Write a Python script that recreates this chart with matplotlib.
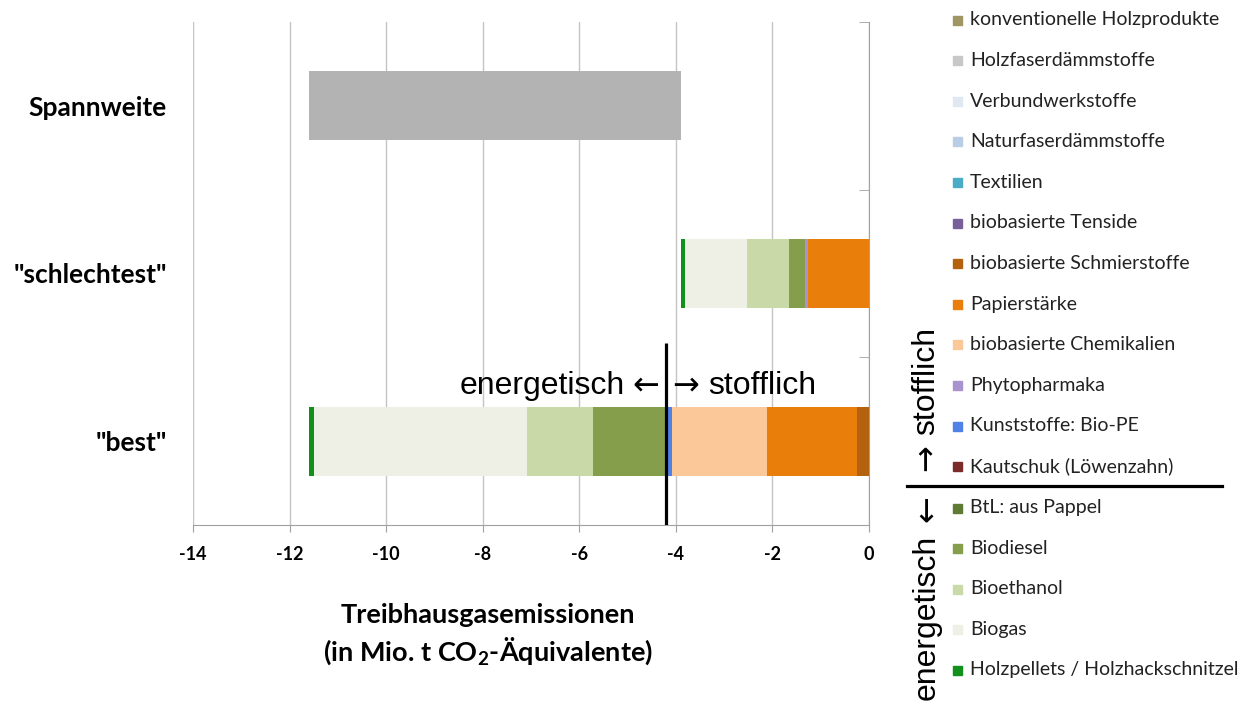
import numpy as np
import matplotlib
matplotlib.use('Agg')
import matplotlib.pyplot as plt
from matplotlib.ticker import FixedLocator
from matplotlib.patches import Rectangle
from matplotlib.lines import Line2D

plt.rcParams['font.family'] = ['Lato', 'DejaVu Sans']
plt.rcParams['mathtext.fontset'] = 'custom'
plt.rcParams['mathtext.rm'] = 'Lato'
plt.rcParams['mathtext.bf'] = 'Lato:bold'

#categories (bottom to top)
categories = ['"best"', '"schlechtest"', 'Spannweite']

#series in stacking order, starting at 0 and going to the left
series = ['konventionelle Holzprodukte', 'Holzfaserdämmstoffe', 'Verbundwerkstoffe',
          'Naturfaserdämmstoffe', 'Textilien', 'biobasierte Tenside',
          'biobasierte Schmierstoffe', 'Papierstärke', 'biobasierte Chemikalien',
          'Phytopharmaka', 'Kunststoffe: Bio-PE', 'Kautschuk (Löwenzahn)',
          'BtL: aus Pappel', 'Biodiesel', 'Bioethanol', 'Biogas',
          'Holzpellets / Holzhackschnitzel']
colors = ['#a09664', '#c8c8c8', '#dfe7f2', '#b9cde5', '#4bacc6', '#77609a',
          '#b5620f', '#e97e0b', '#fbc899', '#a993cf', '#4f81e6', '#7b2c2a',
          '#5f7a32', '#859e4b', '#cad9a8', '#eef0e6', '#138f1c']

#values in Mio. t CO2-eq
best = [0, 0, 0, 0, 0, 0, -0.25, -1.86, -1.96, 0, -0.12, 0, 0, -1.53, -1.36, -4.42, -0.10]
worst = [0, 0, 0, 0, 0, 0, 0, -1.26, 0, -0.06, 0, 0, 0, -0.34, -0.86, -1.29, -0.09]

#range bar
span_lo, span_hi = -11.6, -3.9

#dividing line between energetic and material use
divider_x = -4.2

fig = plt.figure(figsize=(12.43, 7.02), dpi=100)
ax = fig.add_axes([0.1553, 0.2521, 0.5438, 0.7166])

h = 0.41
for yi, vals in [(0, best), (1, worst)]:
    cum = 0
    for v, c in zip(vals, colors):
        if v != 0:
            ax.barh(yi, v, left=cum, height=h, color=c, edgecolor='none', zorder=3)
        cum += v
ax.barh(2, span_hi - span_lo, left=span_lo, height=h, color='#b3b3b3', edgecolor='none', zorder=3)

ax.set_xlim(-14, 0)
ax.set_ylim(-0.5, 2.5)
ax.set_xticks(np.arange(-14, 1, 2))
ax.set_xticklabels([str(t) for t in range(-14, 1, 2)], fontweight='bold')
ax.set_yticks([0, 1, 2])
ax.set_yticklabels(categories, fontweight='bold', fontsize=19)
ax.yaxis.set_minor_locator(FixedLocator([-0.5, 0.5, 1.5, 2.5]))
ax.tick_params(axis='y', which='major', length=0, pad=19)
ax.tick_params(axis='y', which='minor', left=False, right=True, direction='in', length=7, color='#a0a0a0')
ax.tick_params(axis='x', length=5, color='#a0a0a0', labelsize=13, pad=10)
ax.grid(axis='x', color='#c4c4c4', lw=1, zorder=0)
ax.set_axisbelow(True)
for s in ['top', 'left']:
    ax.spines[s].set_visible(False)
for s in ['bottom', 'right']:
    ax.spines[s].set_color('#a0a0a0')

helv = ['Liberation Sans', 'DejaVu Sans']
ax.vlines(divider_x, -0.5, 0.585, color='black', lw=2.3, zorder=5)
ty = 0.33
ax.text(-5.06, ty, 'energetisch', ha='right', va='center', fontsize=23, family=helv)
ax.text(-4.63, ty, '\u2190', ha='center', va='center', fontsize=23, family='DejaVu Sans')
ax.text(-3.80, ty, '\u2192', ha='center', va='center', fontsize=23, family='DejaVu Sans')
ax.text(-3.33, ty, 'stofflich', ha='left', va='center', fontsize=23, family=helv)

fig.text(0.3926, 0.095, 'Treibhausgasemissionen\n(in Mio. t CO$_\\mathbf{2}$-Äquivalente)',
         ha='center', va='center', fontsize=19.5, fontweight='bold', linespacing=1.3)

#legend drawn by hand, top = series nearest to 0
W, H = 1243.0, 702.0
for i, (name, c) in enumerate(zip(series, colors)):
    ypx = 20 + i * 40.6 if i < 12 else 508 + (i - 12) * 40.5
    fig.patches.append(Rectangle((953 / W, 1 - (ypx + 4.5) / H), 9 / W, 9 / H,
                                 transform=fig.transFigure, color=c))
    fig.text(970 / W, 1 - ypx / H, name, ha='left', va='center', fontsize=14, color='#222222')

fig.lines.append(Line2D([907 / W, 1222 / W], [1 - 486 / H, 1 - 486 / H],
                        transform=fig.transFigure, color='black', lw=2.3))
#vertical labels next to the legend
fig.text(926 / W, 1 - 458 / H, '\u2192', rotation=90, ha='center', va='center',
         fontsize=23, family='DejaVu Sans')
fig.text(926 / W, 1 - 435 / H, 'stofflich', rotation=90, ha='center', va='bottom',
         fontsize=23, family=helv)
fig.text(927 / W, 1 - 509 / H, '\u2190', rotation=90, ha='center', va='center',
         fontsize=23, family='DejaVu Sans')
fig.text(927 / W, 1 - 535 / H, 'energetisch', rotation=90, ha='center', va='top',
         fontsize=23, family=helv)

fig.savefig('out.png', dpi=100)
